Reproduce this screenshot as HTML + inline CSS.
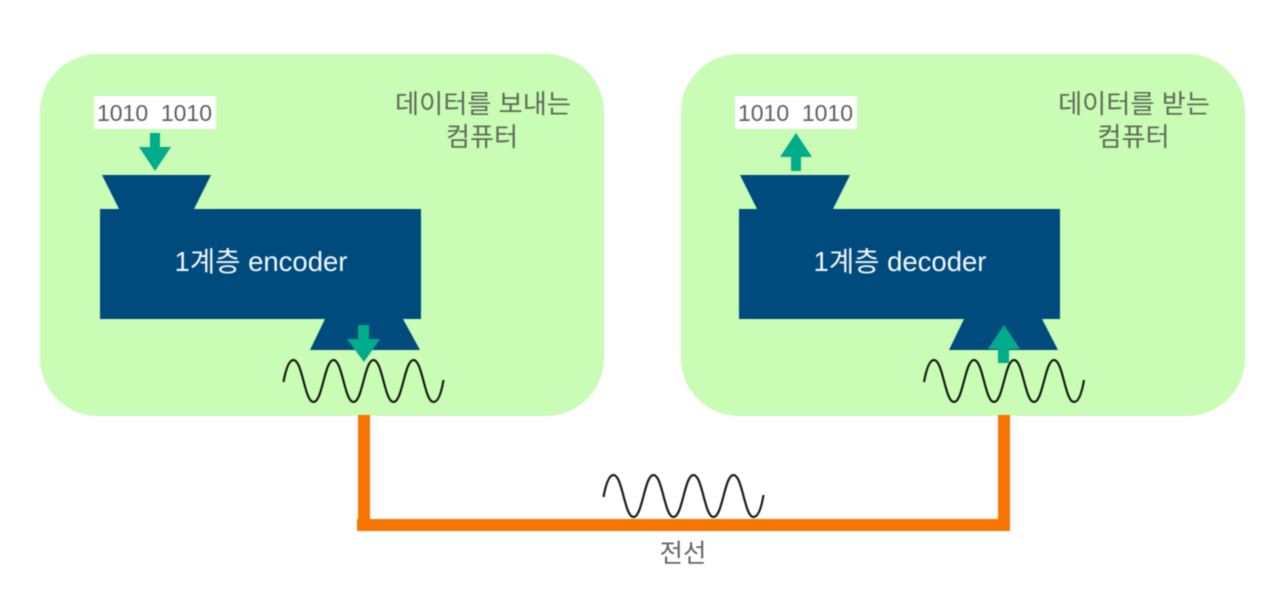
<!DOCTYPE html>
<html lang="ko">
<head>
<meta charset="utf-8">
<style>
html,body{margin:0;padding:0;background:#fff;width:1280px;height:600px;overflow:hidden}
svg{display:block;filter:blur(0.4px)}
text{font-family:"Liberation Sans","Noto Sans CJK KR",sans-serif}
</style>
</head>
<body>
<svg width="1280" height="600" viewBox="0 0 1280 600" xmlns="http://www.w3.org/2000/svg">
<defs>
<path id="w" d="M0 22C2 11 5 0 10 0C19 0 21 42 30 42C39 42 41 0 50 0C59 0 61 42 70 42C79 42 81 0 90 0C99 0 101 42 110 42C119 42 121 0 130 0C139 0 141 42 150 42C155 42 158 32 160 20" fill="none" stroke="#161a14" stroke-width="2.2"/>
</defs>
<rect x="40" y="54" width="564" height="362" rx="58" fill="#c9fcb4"/>
<rect x="681" y="54" width="564" height="362" rx="58" fill="#c9fcb4"/>

<path d="M358 415H370V519H998V415H1010V531H357V519H358Z" fill="#f57500"/>

<!-- left machine -->
<path d="M102 175H211L194 209H421V319H403L420 350H310L325 319H100V209H119Z" fill="#004b7e"/>
<!-- right machine -->
<path d="M740 175H850L833 209H1060V319H1042L1058 350H949L964 319H739V209H757Z" fill="#004b7e"/>

<rect x="94" y="96" width="122" height="33" fill="#fff"/>
<rect x="735" y="96" width="122" height="33" fill="#fff"/>

<text x="97" y="121" font-size="23" fill="#5f5f5f" textLength="115" lengthAdjust="spacing" xml:space="preserve">1010  1010</text>
<text x="738" y="121" font-size="23" fill="#5f5f5f" textLength="115" lengthAdjust="spacing" xml:space="preserve">1010  1010</text>

<!-- arrows -->
<path d="M150 133H160V147H171L155 171L139 147H150Z" fill="#00ac8c"/>
<path d="M791 171H801V157H812L796 133L780 157H791Z" fill="#00ac8c"/>
<path d="M358 325H369V339H380L364 362L347 339H358Z" fill="#00ac8c"/>
<path d="M998 363H1009V349H1020L1004 325L988 349H998Z" fill="#00ac8c"/>

<use href="#w" transform="translate(283.5 360)"/>
<use href="#w" transform="translate(924 360)"/>
<use href="#w" transform="translate(603.5 475)"/>

<text x="261" y="271" font-size="27.5" fill="#f2f6f8" text-anchor="middle">1계층 encoder</text>
<text x="900" y="271" font-size="27.5" fill="#f2f6f8" text-anchor="middle">1계층 decoder</text>

<text x="483" y="113" font-size="26.2" fill="#5f6a5a" text-anchor="middle">데이터를 보내는</text>
<text x="482" y="146" font-size="26.2" fill="#5f6a5a" text-anchor="middle">컴퓨터</text>
<text x="1134" y="113" font-size="26.2" fill="#5f6a5a" text-anchor="middle">데이터를 받는</text>
<text x="1133.5" y="146" font-size="26.2" fill="#5f6a5a" text-anchor="middle">컴퓨터</text>
<text x="683" y="562" font-size="25.5" fill="#666" text-anchor="middle">전선</text>
</svg>
</body>
</html>
